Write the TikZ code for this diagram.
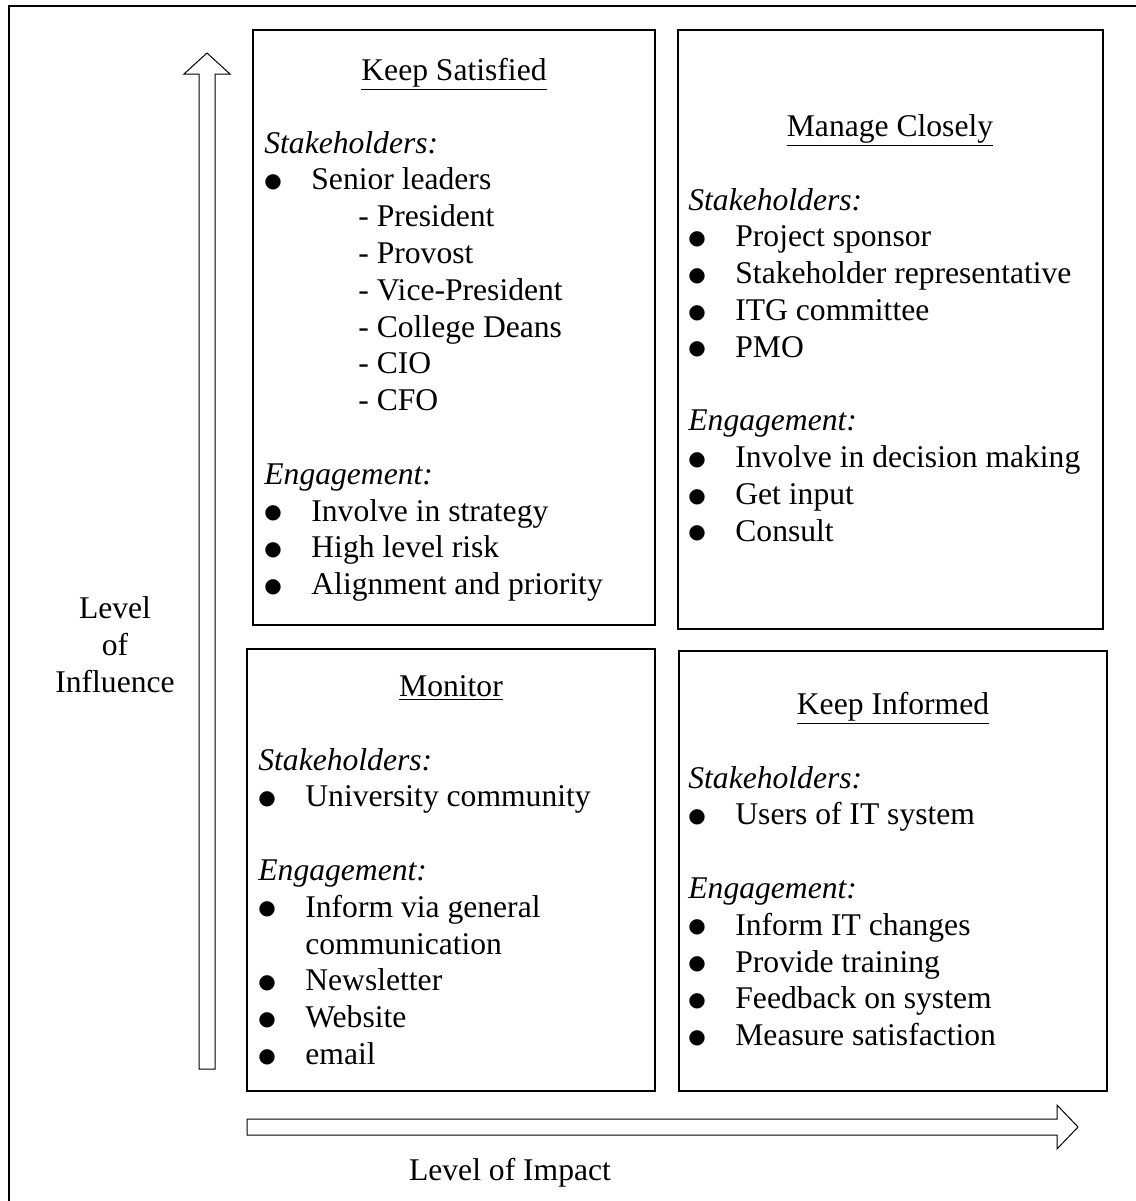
\documentclass[tikz,border=0pt]{standalone}
\usepackage{fontspec}
\setmainfont{Liberation Serif}
\newfontfamily\bulletfont{DejaVu Sans}
\newcommand\bul{\makebox[23.5pt][l]{\raisebox{1.2pt}{\bulletfont\fontsize{10}{10}\selectfont ●}}}
\newcommand\dashitem[1]{\hspace*{47pt}- #1}
\begin{document}
\begin{tikzpicture}[x=0.5pt,y=-0.5pt,
  quad/.style={draw, line width=1pt},
  hollowarrow/.style={draw, line width=0.5pt, fill=white, line join=miter},
  txt/.style={anchor=base west, inner sep=0pt, font=\fontsize{15.8}{18.4}\selectfont},
  ttl/.style={anchor=base, inner sep=0pt, font=\fontsize{15.8}{18.4}\selectfont},
  axislabel/.style={anchor=base, inner sep=0pt, font=\fontsize{15.8}{18.4}\selectfont}]
\useasboundingbox (0,0) rectangle (1136,1201);

% outer frame (top and left edges)
\draw[line width=1pt] (9,1201) -- (9,6) -- (1136,6);

% quadrants
\draw[quad] (253,30) rectangle (655,625);
\draw[quad] (678,30) rectangle (1103,629);
\draw[quad] (247,649) rectangle (655,1091);
\draw[quad] (679,651) rectangle (1107,1091);

% axis arrows
\draw[hollowarrow] (199,1069) -- (199,74) -- (184,74) -- (207,53) -- (230,74) -- (215,74) -- (215,1069) -- cycle;
\draw[hollowarrow] (247,1119) -- (1057,1119) -- (1057,1105) -- (1078,1127) -- (1057,1149) -- (1057,1135) -- (247,1135) -- cycle;

% axis labels
\node[axislabel] (inf1) at (115,618) {Level};
\node[axislabel] (inf2) at (115,655) {of};
\node[axislabel] (inf3) at (115,692) {Influence};
\node[axislabel] (imp) at (510,1180) {Level of Impact};

% Keep Satisfied
\node[ttl] (kst) at (454,80) {\underline{Keep Satisfied}};
\foreach \t [count=\i from 0] in {\textit{Stakeholders:}, \bul Senior leaders,
  \dashitem{President}, \dashitem{Provost}, \dashitem{Vice-President},
  \dashitem{College Deans}, \dashitem{CIO}, \dashitem{CFO}}
  \node[txt] (ksa\i) at (264,{153+36.8*\i}) {\t};
\foreach \t [count=\i from 9] in {\textit{Engagement:}, \bul Involve in strategy,
  \bul High level risk, \bul Alignment and priority}
  \node[txt] (ksb\i) at (264,{153+36.8*\i}) {\t};

% Manage Closely
\node[ttl] (mct) at (890,136) {\underline{Manage Closely}};
\foreach \t [count=\i from 0] in {\textit{Stakeholders:}, \bul Project sponsor,
  \bul Stakeholder representative, \bul ITG committee, \bul PMO}
  \node[txt] (mca\i) at (688,{210+36.8*\i}) {\t};
\foreach \t [count=\i from 6] in {\textit{Engagement:}, \bul Involve in decision making,
  \bul Get input, \bul Consult}
  \node[txt] (mcb\i) at (688,{210+36.8*\i}) {\t};

% Monitor
\node[ttl] (mot) at (451,696) {\underline{Monitor}};
\foreach \t [count=\i from 0] in {\textit{Stakeholders:}, \bul University community}
  \node[txt] (moa\i) at (258,{770+36.8*\i}) {\t};
\foreach \t [count=\i from 3] in {\textit{Engagement:}, \bul Inform via general,
  \hspace*{23.5pt}communication, \bul Newsletter, \bul Website, \bul email}
  \node[txt] (mob\i) at (258,{770+36.8*\i}) {\t};

% Keep Informed
\node[ttl] (kit) at (893,714) {\underline{Keep Informed}};
\foreach \t [count=\i from 0] in {\textit{Stakeholders:}, \bul Users of IT system}
  \node[txt] (kia\i) at (688,{788+36.8*\i}) {\t};
\foreach \t [count=\i from 3] in {\textit{Engagement:}, \bul Inform IT changes,
  \bul Provide training, \bul Feedback on system, \bul Measure satisfaction}
  \node[txt] (kib\i) at (688,{788+36.8*\i}) {\t};
\end{tikzpicture}
\end{document}
